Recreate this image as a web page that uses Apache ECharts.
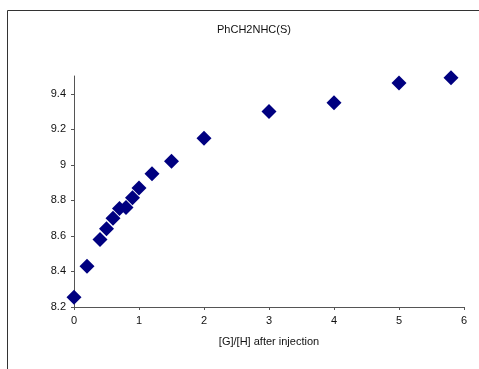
<!DOCTYPE html>
<html><head><meta charset="utf-8">
<script src="https://cdn.jsdelivr.net/npm/echarts@6/dist/echarts.min.js"></script>
<style>html,body{margin:0;padding:0;background:#fff}#c{width:479px;height:369px}</style>
</head><body><div id="c"></div>
<script>
const xValues = [0, 0.2, 0.4, 0.5, 0.6, 0.7, 0.8, 0.9, 1.0, 1.2, 1.5, 2, 3, 4, 5, 5.8];
const yValues = [8.255, 8.43, 8.58, 8.64, 8.70, 8.755, 8.76, 8.815, 8.87, 8.95, 9.02, 9.15, 9.30, 9.35, 9.46, 9.49];
const yTicks = [8.2, 8.4, 8.6, 8.8, 9, 9.2, 9.4];
const xTicks = [0, 1, 2, 3, 4, 5, 6];
const titleText = 'PhCH2NHC(S)';
const xName = '[G]/[H] after injection';

const chart = echarts.init(document.getElementById('c'), null, {renderer: 'canvas'});
const font = 'Liberation Sans, Arial, sans-serif';
chart.setOption({
  animation: false,
  backgroundColor: '#fff',
  title: {text: titleText, left: 249, top: 19, textAlign: 'center',
    textStyle: {fontFamily: font, fontSize: 11, fontWeight: 'normal', color: '#111'}},
  graphic: [{type: 'rect', shape: {x: 7.5, y: 10.5, width: 500, height: 400},
    style: {fill: 'none', stroke: '#333', lineWidth: 1}, silent: true, z: -1}],
  grid: {left: 74, right: 15, top: 76, bottom: 62, containLabel: false},
  xAxis: {type: 'value', min: 0, max: 6, interval: 1,
    name: xName, nameLocation: 'middle', nameGap: 29,
    nameTextStyle: {fontFamily: font, fontSize: 11, color: '#111'},
    axisLine: {lineStyle: {color: '#555', width: 1}},
    axisTick: {show: true, length: 3, inside: false, lineStyle: {color: '#555'}, customValues: xTicks},
    axisLabel: {fontFamily: font, fontSize: 11, color: '#111', margin: 8, customValues: xTicks},
    splitLine: {show: false}},
  yAxis: {type: 'value', min: 8.2, max: 9.5, interval: 0.2,
    axisLine: {show: true, lineStyle: {color: '#555', width: 1}},
    axisTick: {show: true, length: 3, inside: false, lineStyle: {color: '#555'}, customValues: yTicks},
    axisLabel: {fontFamily: font, fontSize: 11, color: '#111', margin: 8, customValues: yTicks},
    splitLine: {show: false}},
  series: [{type: 'scatter', symbol: 'diamond', symbolSize: [15, 15],
    itemStyle: {color: '#000080', opacity: 1},
    data: xValues.map((x, i) => [x, yValues[i]])}]
});
</script></body></html>
